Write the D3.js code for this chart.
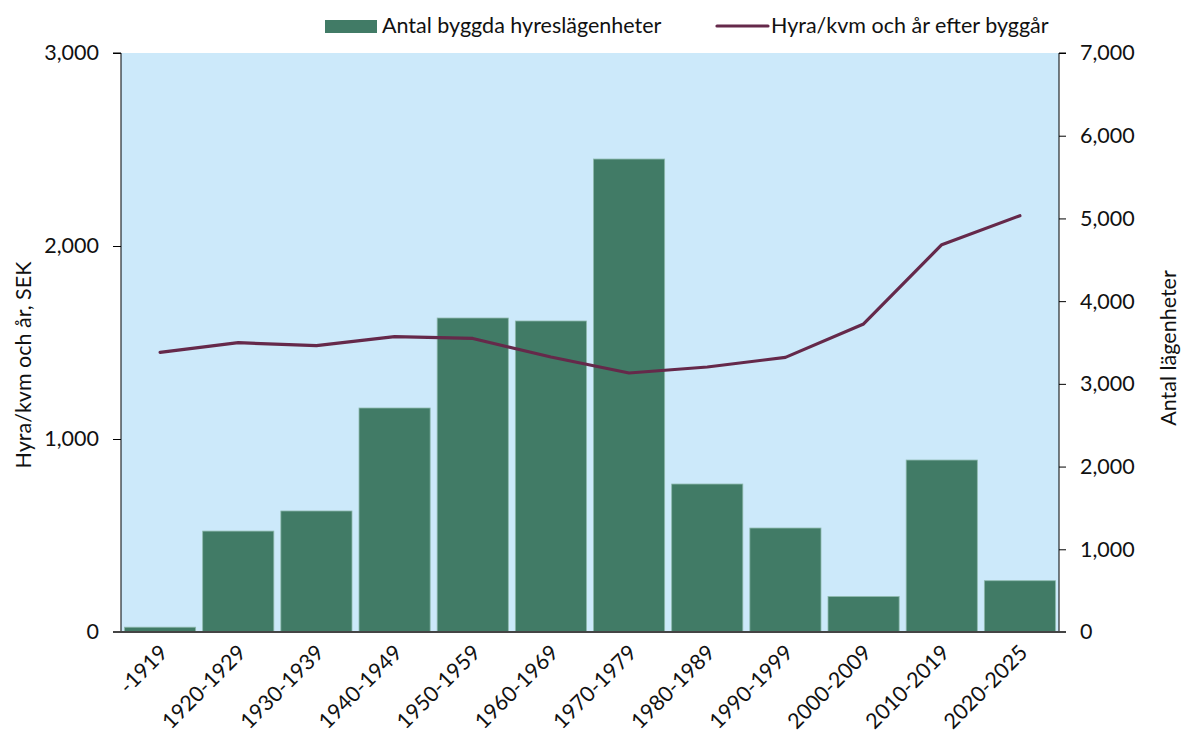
<!DOCTYPE html>
<html><head><meta charset="utf-8">
<script src="https://cdn.jsdelivr.net/npm/d3@7"></script>
<style>
html,body{margin:0;padding:0;background:#fff;}
svg{display:block;font-family:Lato, "Noto Sans", sans-serif;}
</style></head>
<body>
<svg id="chart" width="1184" height="738"></svg>
<script>
const categories = ["-1919","1920-1929","1930-1939","1940-1949","1950-1959","1960-1969","1970-1979","1980-1989","1990-1999","2000-2009","2010-2019","2020-2025"];
const apartments = [58,1220,1463,2708,3796,3760,5718,1789,1257,428,2079,620];
const rentPerSqm = [1449,1499,1484,1530,1521,1425,1342,1373,1423,1596,2007,2157];
const leftTicks = [0,1000,2000,3000];
const rightTicks = [0,1000,2000,3000,4000,5000,6000,7000];
const legendLabels = ["Antal byggda hyreslägenheter","Hyra/kvm och år efter byggår"];
const leftTitle = "Hyra/kvm och år, SEK";
const rightTitle = "Antal lägenheter";

const svg = d3.select("#chart");
const m = {left:121, right:1059, top:53, bottom:632};
const fmt = d3.format(",");
const fs = 21.5;

const x = d3.scaleBand().domain(categories).range([m.left,m.right]).paddingInner(0.09).paddingOuter(0.045);
const yL = d3.scaleLinear().domain([0,3000]).range([m.bottom,m.top]);
const yR = d3.scaleLinear().domain([0,7000]).range([m.bottom,m.top]);

svg.append("rect").attr("x",m.left).attr("y",m.top).attr("width",m.right-m.left).attr("height",m.bottom-m.top).attr("fill","#CCE9FA");

svg.append("g").selectAll("rect").data(categories).join("rect")
  .attr("x",d=>x(d)).attr("width",x.bandwidth())
  .attr("y",(d,i)=>yR(apartments[i])).attr("height",(d,i)=>yR(0)-yR(apartments[i]))
  .attr("fill","#417B66").attr("stroke","#8DB8AC").attr("stroke-width",0.8);

const line = d3.line().x((d,i)=>x(categories[i])+x.bandwidth()/2).y(d=>yL(d));
svg.append("path").datum(rentPerSqm).attr("d",line).attr("fill","none")
  .attr("stroke","#65294A").attr("stroke-width",3.2).attr("stroke-linejoin","round").attr("stroke-linecap","round");

// left axis
const gL = svg.append("g").attr("transform",`translate(${m.left},0)`)
  .call(d3.axisLeft(yL).tickValues(leftTicks).tickFormat(fmt).tickSize(8).tickPadding(14));
gL.select(".domain").attr("stroke","#000").attr("d",`M-8,${m.top}H0V${m.bottom}`);
gL.selectAll(".tick line").attr("stroke","#000");
gL.selectAll("text").attr("font-size",fs).attr("fill","#111").attr("font-family","Lato");

// right axis
const gR = svg.append("g").attr("transform",`translate(${m.right},0)`)
  .call(d3.axisRight(yR).tickValues(rightTicks).tickFormat(fmt).tickSize(7).tickPadding(14));
gR.select(".domain").attr("stroke","#000").attr("d",`M7,${m.top}H0V${m.bottom}`);
gR.selectAll(".tick line").attr("stroke","#000");
gR.selectAll("text").attr("font-size",fs).attr("fill","#111").attr("font-family","Lato");

// bottom axis
const gB = svg.append("g").attr("transform",`translate(0,${m.bottom})`)
  .call(d3.axisBottom(x).tickSize(0).tickPadding(0));
gB.select(".domain").attr("stroke","#444").attr("stroke-width",2).attr("d",`M${m.left-8},0H${m.right+7}`);
gB.selectAll(".tick text").attr("font-size",fs).attr("fill","#111").attr("font-family","Lato")
  .attr("text-anchor","end").attr("dy",null).attr("y",0)
  .attr("transform","translate(9,22) rotate(-45)");

// axis titles
svg.append("text").attr("transform","translate(31,365) rotate(-90)").attr("text-anchor","middle")
  .attr("font-size",fs).attr("fill","#111").text(leftTitle);
svg.append("text").attr("transform","translate(1176,348) rotate(-90)").attr("text-anchor","middle")
  .attr("font-size",fs).attr("fill","#111").text(rightTitle);

// legend
const lg = svg.append("g");
lg.append("rect").attr("x",325).attr("y",20).attr("width",52).attr("height",13).attr("fill","#417B66");
lg.append("text").attr("x",382).attr("y",33).attr("font-size",fs).attr("fill","#111").text(legendLabels[0]);
lg.append("line").attr("x1",717).attr("x2",768).attr("y1",26).attr("y2",26).attr("stroke","#65294A").attr("stroke-width",3.2).attr("stroke-linecap","round");
lg.append("text").attr("x",771).attr("y",33).attr("font-size",fs).attr("fill","#111").text(legendLabels[1]);
</script>
</body></html>
